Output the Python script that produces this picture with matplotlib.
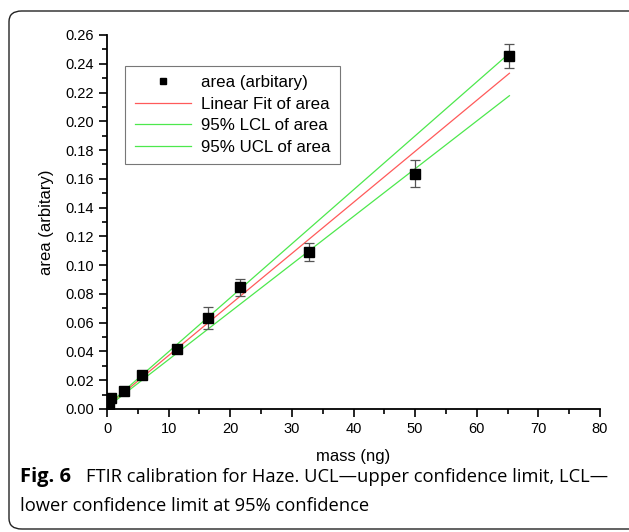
import matplotlib.pyplot as plt
from matplotlib.patches import FancyBboxPatch
from matplotlib.lines import Line2D

# data
mass = [0.3, 0.7, 2.8, 5.7, 11.3, 16.4, 21.6, 32.8, 50.0, 65.3]
area = [0.0035, 0.0074, 0.0125, 0.0236, 0.042, 0.0633, 0.0846, 0.1094, 0.1636, 0.2455]
area_err = [0.0005, 0.0008, 0.0012, 0.0018, 0.0028, 0.0079, 0.0058, 0.0062, 0.0092, 0.0081]

fit_x = [0.3, 65.3]
fit_y = [0.0028, 0.2334]
lcl_y = [0.0022, 0.2178]
ucl_y = [0.0034, 0.2473]

x_ticks = [0, 10, 20, 30, 40, 50, 60, 70, 80]
y_ticks = [0.00, 0.02, 0.04, 0.06, 0.08, 0.10, 0.12, 0.14, 0.16, 0.18, 0.20, 0.22, 0.24, 0.26]

plt.rcParams['font.family'] = ['Liberation Sans', 'DejaVu Sans']

fig = plt.figure(figsize=(6.29, 5.32), dpi=100)
W, H = 629, 532
ax = fig.add_axes([107 / W, 1 - 409 / H, (600 - 107) / W, (409 - 35) / H])

# rounded frame around figure + caption
frame = FancyBboxPatch((9 / W, 3 / H), 640 / W, (521 - 3) / H,
                       boxstyle="round,pad=0,rounding_size=0.02",
                       transform=fig.transFigure, fill=False,
                       edgecolor='#222222', linewidth=1.0, clip_on=False)
fig.patches.append(frame)

red_line, = ax.plot(fit_x, fit_y, color='#ff5a5a', linewidth=0.9)
lcl_line, = ax.plot(fit_x, lcl_y, color='#4de84d', linewidth=0.9)
ucl_line, = ax.plot(fit_x, ucl_y, color='#4de84d', linewidth=0.9)
ax.errorbar(mass, area, yerr=area_err, fmt='s', color='black', markersize=6.5,
            ecolor='#555555', elinewidth=0.9, capsize=3.5, capthick=0.9, zorder=5)

ax.set_xlim(0, 80)
ax.set_ylim(0, 0.26)
ax.set_xticks(x_ticks)
ax.set_yticks(y_ticks)
ax.set_xticks(range(5, 80, 10), minor=True)
ax.set_yticks([0.01 + 0.02 * i for i in range(13)], minor=True)
ax.set_yticklabels([f'{v:.2f}' for v in y_ticks])
ax.tick_params(which='major', direction='out', length=6, width=1.2, labelsize=10.5)
ax.tick_params(which='minor', direction='out', length=3.5, width=1.2)
ax.spines['top'].set_visible(False)
ax.spines['right'].set_visible(False)
ax.spines['left'].set_linewidth(1.3)
ax.spines['bottom'].set_linewidth(1.3)

ax.set_xlabel('mass (ng)', fontsize=12, labelpad=9)
ax.set_ylabel('area (arbitary)', fontsize=12, labelpad=8)

marker_handle = Line2D([], [], linestyle='none', marker='s', color='black', markersize=5)
leg = ax.legend([marker_handle, red_line, lcl_line, ucl_line],
                ['area (arbitary)', 'Linear Fit of area', '95% LCL of area', '95% UCL of area'],
                loc='upper left', bbox_to_anchor=(0.02, 0.94), fontsize=12.2,
                frameon=True, fancybox=False, edgecolor='#555555',
                handlelength=3.3, labelspacing=0.38, borderpad=0.55, handletextpad=0.6)
leg.get_frame().set_linewidth(0.8)

# caption
cap_font = ['Open Sans', 'DejaVu Sans']
fig.text(20 / W, 1 - 477 / H, 'Fig. 6', fontsize=14.5, va='center', fontweight='bold',
         family=cap_font)
fig.text(86 / W, 1 - 477 / H, 'FTIR calibration for Haze. UCL\u2014upper confidence limit, LCL\u2014',
         fontsize=13.2, va='center', family=cap_font)
fig.text(20 / W, 1 - 506 / H, 'lower confidence limit at 95% confidence',
         fontsize=13.2, va='center', family=cap_font)

fig.savefig('out.png', dpi=100)
